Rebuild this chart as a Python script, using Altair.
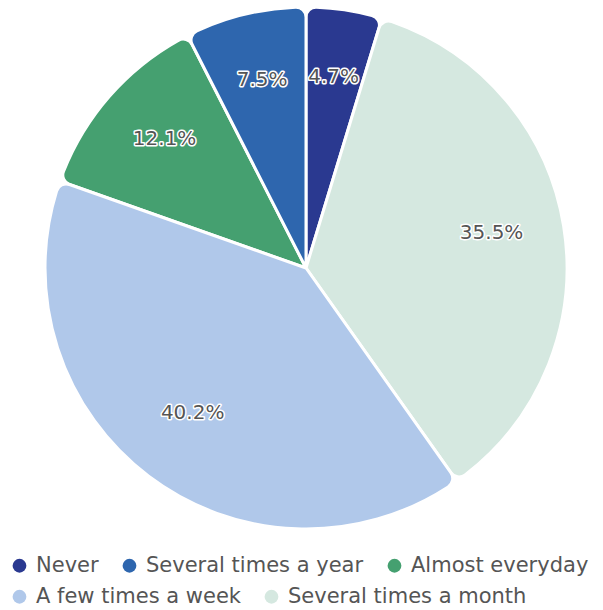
import altair as alt
import pandas as pd

categories = ["Never", "Several times a month", "A few times a week", "Almost everyday", "Several times a year"]
values = [4.7, 35.5, 40.2, 12.1, 7.5]
labels = ["4.7%", "35.5%", "40.2%", "12.1%", "7.5%"]
legend_row1 = ["Never", "Several times a year", "Almost everyday"]
legend_row1_colors = ["#2a3990", "#2e66ae", "#45a070"]
legend_row2 = ["A few times a week", "Several times a month"]
legend_row2_colors = ["#b0c8ea", "#d5e8e0"]

df = pd.DataFrame({"cat": categories, "val": values, "label": labels, "idx": list(range(len(categories)))})

FONT = "DejaVu Sans"

base = alt.Chart(df).transform_window(
    cum="sum(val)", sort=[alt.SortField("idx")], frame=[None, 0]
).transform_calculate(
    start="datum.cum - datum.val", mid="datum.cum - datum.val / 2"
)

theta_scale = alt.Scale(domain=[0, 100])
cx = alt.value(298)
cy = alt.value(260)


def legend(x, y):
    return alt.Legend(
        title=None, orient="none", legendX=x, legendY=y, direction="horizontal",
        symbolType="circle", symbolSize=190, symbolStrokeWidth=0, symbolOpacity=1,
        labelFontSize=21, labelColor="#555555", labelFont=FONT, labelLimit=0,
        columnPadding=20, labelOffset=6,
    )


def pie_layer(cats, cols, lx, ly):
    return base.transform_filter(
        alt.FieldOneOfPredicate(field="cat", oneOf=cats)
    ).mark_arc(radius=261, stroke="white", strokeWidth=3, cornerRadius=10).encode(
        theta=alt.Theta("start:Q", scale=theta_scale),
        theta2="cum:Q",
        color=alt.Color("cat:N", scale=alt.Scale(domain=cats, range=cols), legend=legend(lx, ly)),
        x=cx, y=cy,
    )


pie1 = pie_layer(legend_row1, legend_row1_colors, 1, 547)
pie2 = pie_layer(legend_row2, legend_row2_colors, 1, 578)

halo = base.mark_text(radius=188, fontSize=20, font=FONT, stroke="white", strokeWidth=3,
                      strokeJoin="round", fill="white", dy=-5).encode(
    theta=alt.Theta("mid:Q", scale=theta_scale), text="label:N", x=cx, y=cy
)
text = base.mark_text(radius=188, fontSize=20, font=FONT, color="#555555", dy=-5).encode(
    theta=alt.Theta("mid:Q", scale=theta_scale), text="label:N", x=cx, y=cy
)

chart = alt.layer(pie1, pie2, halo, text).resolve_scale(color="independent").properties(
    width=587, height=522,
    autosize=alt.AutoSizeParams(type="none"),
    padding={"left": 0, "top": 0, "right": 0, "bottom": 80},
).configure_view(stroke=None)

chart.save("out.html", embed_options={"renderer": "svg", "actions": False})
